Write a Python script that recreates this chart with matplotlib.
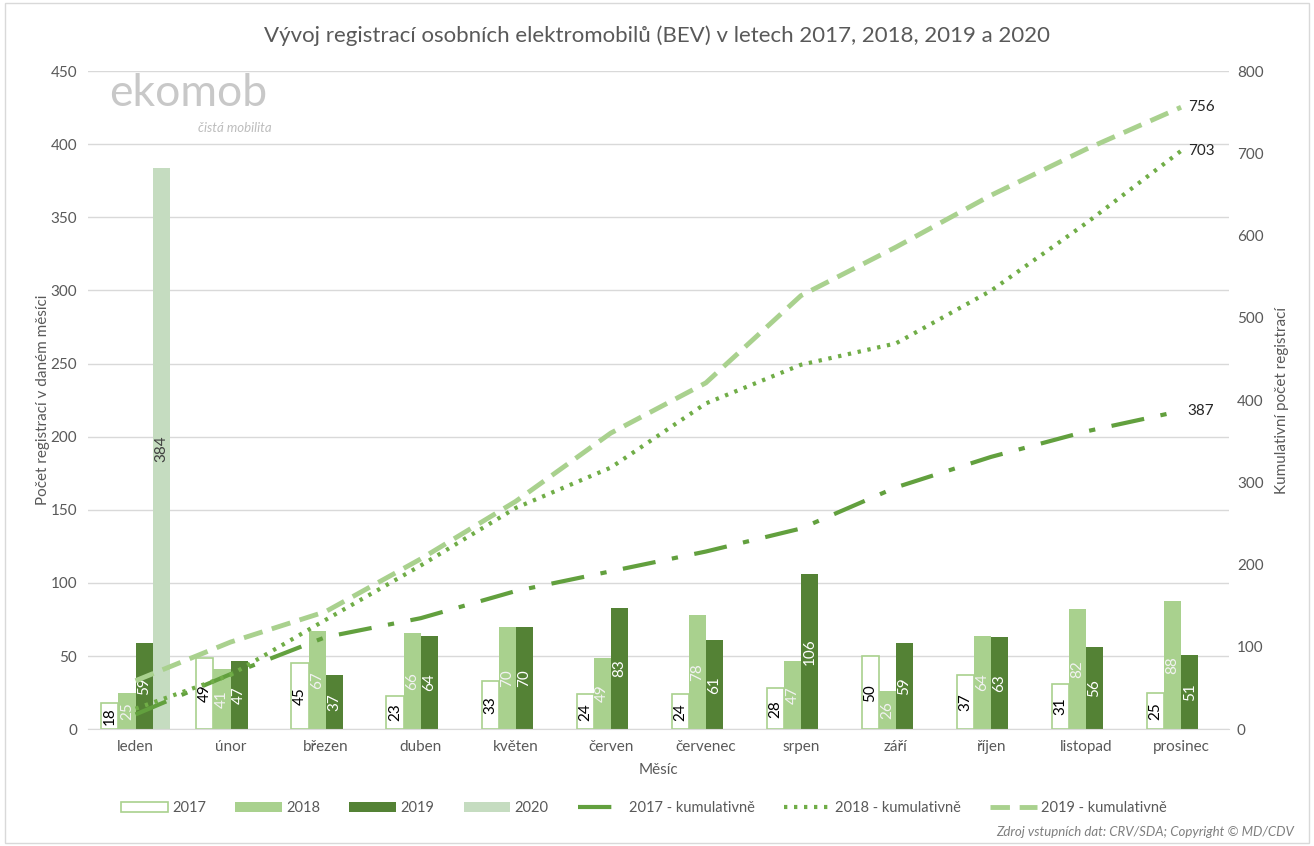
import numpy as np
import matplotlib
matplotlib.use('Agg')
import matplotlib.pyplot as plt
from matplotlib.patches import Rectangle, Patch
from matplotlib.lines import Line2D

plt.rcParams['font.family'] = ['Lato', 'DejaVu Sans']

# ── Data ─────────────────────────────────────────────────────────────────────
months = ['leden', 'únor', 'březen', 'duben', 'květen', 'červen',
          'červenec', 'srpen', 'září', 'říjen', 'listopad', 'prosinec']
reg_2017 = [18, 49, 45, 23, 33, 24, 24, 28, 50, 37, 31, 25]
reg_2018 = [25, 41, 67, 66, 70, 49, 78, 47, 26, 64, 82, 88]
reg_2019 = [59, 47, 37, 64, 70, 83, 61, 106, 59, 63, 56, 51]
reg_2020 = [384]
cum_2017 = [18, 67, 112, 135, 168, 192, 216, 244, 294, 331, 362, 387]
cum_2018 = [25, 66, 133, 199, 269, 318, 396, 443, 469, 533, 615, 703]
cum_2019 = [59, 106, 143, 207, 277, 360, 421, 527, 586, 649, 705, 756]

C_LIGHT = '#a9d18e'
C_DARK = '#548235'
C_PALE = '#c5dcc0'
C_MID = '#62a03e'
GRAY = '#595959'

fig = plt.figure(figsize=(13.14, 8.46), dpi=100)
fig.patches.append(Rectangle((0.004, 0.004), 0.992, 0.992, transform=fig.transFigure,
                             fill=False, edgecolor='#d9d9d9', lw=1))
ax = fig.add_axes([0.067, 0.138, 0.868, 0.778])
ax2 = ax.twinx()

x = np.arange(len(months))
w = 0.18
offs = [-1.5 * w, -0.5 * w, 0.5 * w, 1.5 * w]

b17 = ax.bar(x + offs[0], reg_2017, w, color='white', edgecolor=C_LIGHT, lw=1.2, zorder=2)
b18 = ax.bar(x + offs[1], reg_2018, w, color=C_LIGHT, zorder=2)
b19 = ax.bar(x + offs[2], reg_2019, w, color=C_DARK, zorder=2)
b20 = ax.bar(x[:1] + offs[3], reg_2020, w, color=C_PALE, zorder=2)

for bars, col in [(b17, 'black'), (b18, '#f2f2f2'), (b19, 'white'), (b20, '#404040')]:
    for r in bars:
        h = r.get_height()
        ax.text(r.get_x() + r.get_width() / 2, h / 2, f'{h:g}', rotation=90,
                ha='center', va='center', fontsize=11, color=col, zorder=3)

ax.set_ylim(0, 450)
ax.set_yticks(range(0, 451, 50))
ax.set_xlim(-0.5, 11.5)
ax.set_xticks(x)
ax.set_xticklabels(months)
ax.grid(axis='y', color='#d9d9d9', lw=1)
ax.set_axisbelow(True)
for s in ['top', 'left', 'right']:
    ax.spines[s].set_visible(False)
ax.spines['bottom'].set_color('#d9d9d9')
ax.tick_params(length=0, colors=GRAY, labelsize=11, pad=8)
ax.set_ylabel('Počet registrací v daném měsíci', color=GRAY, fontsize=11, labelpad=0)
ax.set_xlabel('Měsíc', color=GRAY, fontsize=11, labelpad=6)

ax2.plot(x, cum_2017, color=C_MID, lw=3, dashes=[8, 4, 1.5, 4], zorder=4)
ax2.plot(x, cum_2018, color='#70ad47', lw=3, ls=(0, (0.8, 1.6)), zorder=4)
ax2.plot(x, cum_2019, color=C_LIGHT, lw=3.5, dashes=[4, 2], zorder=4)
ax2.set_ylim(0, 800)
ax2.set_yticks(range(0, 801, 100))
for s in ax2.spines.values():
    s.set_visible(False)
ax2.tick_params(length=0, colors=GRAY, labelsize=11, pad=6)
ax2.set_ylabel('Kumulativní počet registrací', color=GRAY, fontsize=11, labelpad=8)

for series in [cum_2017, cum_2018, cum_2019]:
    ax2.text(x[-1] + 0.07, series[-1], f'{series[-1]}', fontsize=11,
             color='#262626', va='center')

fig.text(0.5, 0.958, 'Vývoj registrací osobních elektromobilů (BEV) v letech 2017, 2018, 2019 a 2020',
         ha='center', va='center', fontsize=16, color=GRAY)

# logo
fig.text(0.083, 0.890, 'ekomob', fontsize=32, color='#c8c8c8', va='center')
fig.text(0.207, 0.849, 'čistá mobilita', fontsize=9.5, color='#bdbdbd', style='italic',
         va='center', ha='right')

handles = [
    Patch(facecolor='white', edgecolor=C_LIGHT, lw=1.2),
    Patch(facecolor=C_LIGHT),
    Patch(facecolor=C_DARK),
    Patch(facecolor=C_PALE),
    Line2D([], [], color=C_MID, lw=3, dashes=[8, 4, 1.5, 4]),
    Line2D([], [], color='#70ad47', lw=3, ls=(0, (0.8, 1.6))),
    Line2D([], [], color=C_LIGHT, lw=3.5, dashes=[4, 2]),
]
labels = ['2017', '2018', '2019', '2020', '2017 - kumulativně', '2018 - kumulativně',
          '2019 - kumulativně']
fig.legend(handles, labels, loc='center', bbox_to_anchor=(0.49, 0.045), ncol=7,
           frameon=False, fontsize=10.5, labelcolor=GRAY, handlelength=3.2,
           handleheight=0.7, columnspacing=2.0, handletextpad=0.3)

fig.text(0.985, 0.017, 'Zdroj vstupních dat: CRV/SDA; Copyright © MD/CDV', ha='right',
         va='center', fontsize=9.5, color='#7f7f7f', style='italic')

fig.savefig('out.png', dpi=100)
